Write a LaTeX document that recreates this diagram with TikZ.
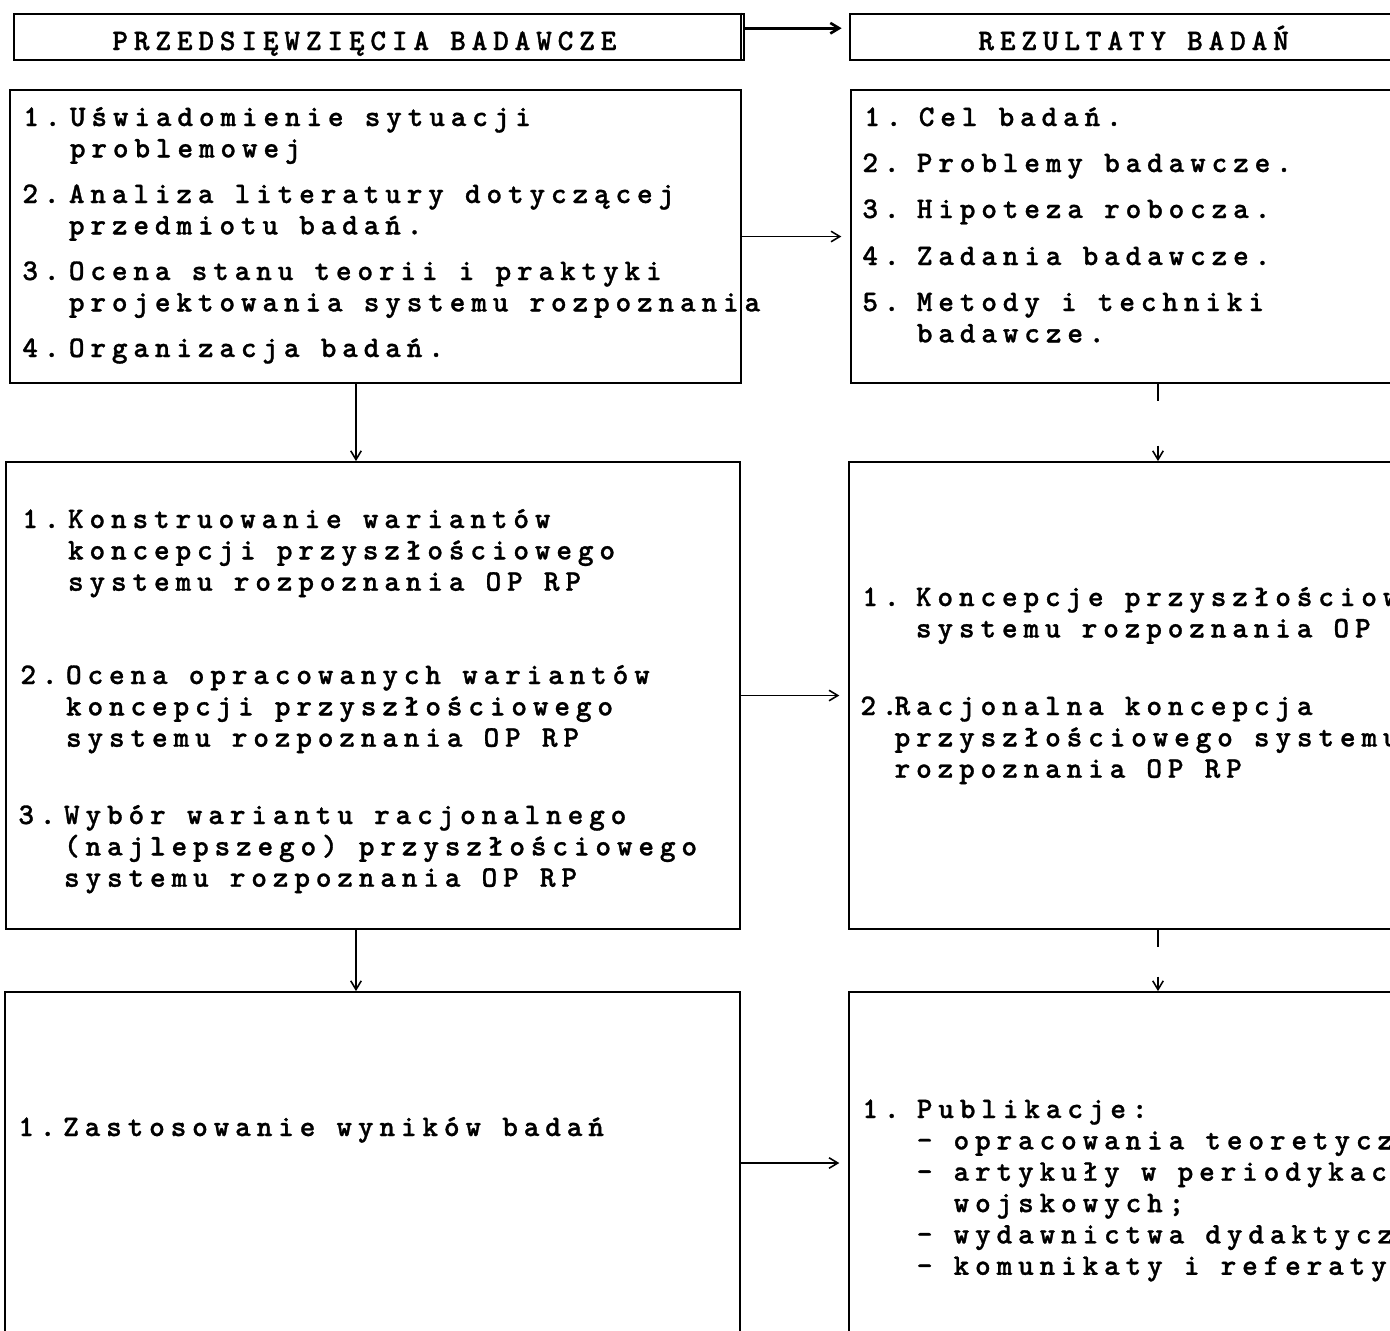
\documentclass[tikz,border=0pt]{standalone}
\usepackage{fontspec}
\newfontfamily\drukarka{lmmonolt10-bold.otf}[LetterSpace=19.5,FakeBold=1]
\usetikzlibrary{arrows.meta,fit}

\newcommand{\drukfont}{\drukarka\fontsize{17}{17.85}\selectfont}
\newcommand{\nr}[2][26.5pt]{\makebox[#1][l]{#2}}
\newcommand{\wc}[1][26.5pt]{\hspace*{#1}}

\tikzset{
  ramka/.style={draw, line width=1pt, inner sep=0pt},
  naglowek/.style={draw, line width=1.5pt, inner sep=0pt},
  tekst/.style={anchor=base west, inner sep=0pt, text width=20cm, align=left,
    font=\drukfont, execute at begin node={\spaceskip=12pt\relax}},
  strz/.style={-{Straight Barb[length=5pt,width=6pt]}, line width=0.9pt},
  przer/.style={strz, dash pattern=on 9.6pt off #1 on 20pt},
  przer/.default=25.5pt
}

\begin{document}
\begin{tikzpicture}[x=0.02cm, y=-0.02cm]
  % helper grid: comment for final drawing
  % \draw[help lines,step=50] (0,0) grid (1390,1330);
  \useasboundingbox (0,0) rectangle (1390,1330);
  \clip (0,0) rectangle (1390,1330);
  % naglowki
  \node[naglowek, fit={(14,14) (744,60)}] (hl) {};
  \node[naglowek, fit={(850,14) (1420,60)}] (hr) {};
  \draw[line width=1pt] ([xshift=-2.5pt]hl.north east) -- ([xshift=-2.5pt]hl.south east);
  \node[tekst] (thl) at (112,50) {PRZEDSIĘWZIĘCIA BADAWCZE};
  \node[tekst] (thr) at (978,50) {REZULTATY BADAŃ};
  % ramki
  \node[ramka, fit={(10,90) (741,383)}] (l1) {};
  \node[ramka, fit={(851,90) (1420,383)}] (r1) {};
  \node[ramka, fit={(6,462) (740,929)}] (l2) {};
  \node[ramka, fit={(849,462) (1420,929)}] (r2) {};
  \node[ramka, fit={(5,992) (740,1334)}] (l3) {};
  \node[ramka, fit={(849,992) (1420,1334)}] (r3) {};
  % przedsiewziecia
  \node[tekst] (p1) at (23,126) {\nr{1.}Uświadomienie sytuacji\\\wc problemowej};
  \node[tekst] (p2) at (22,203) {\nr{2.}Analiza literatury dotyczącej\\\wc przedmiotu badań.};
  \node[tekst] (p3) at (22,280) {\nr{3.}Ocena stanu teorii i praktyki\\\wc projektowania systemu rozpoznania};
  \node[tekst] (p4) at (22,357) {\nr{4.}Organizacja badań.};
  \node[tekst] (k1) at (22,528) {\nr[26pt]{1.}Konstruowanie wariantów\\\wc[26pt]koncepcji przyszłościowego\\\wc[26pt]systemu rozpoznania OP RP};
  \node[tekst] (k2) at (20,684) {\nr[26pt]{2.}Ocena opracowanych wariantów\\\wc[26pt]koncepcji przyszłościowego\\\wc[26pt]systemu rozpoznania OP RP};
  \node[tekst] (k3) at (18,824) {\nr[26pt]{3.}Wybór wariantu racjonalnego\\\wc[26pt](najlepszego) przyszłościowego\\\wc[26pt]systemu rozpoznania OP RP};
  \node[tekst] (z1) at (18,1136) {\nr[25.5pt]{1.}Zastosowanie wyników badań};
  % rezultaty
  \node[tekst] (w1) at (864,126) {\nr[31pt]{1.}Cel badań.};
  \node[tekst] (w2) at (862,172) {\nr[31pt]{2.}Problemy badawcze.};
  \node[tekst] (w3) at (862,218) {\nr[31pt]{3.}Hipoteza robocza.};
  \node[tekst] (w4) at (862,265) {\nr[31pt]{4.}Zadania badawcze.};
  \node[tekst] (w5) at (862,311) {\nr[31pt]{5.}Metody i techniki\\\wc[31pt]badawcze.};
  \node[tekst] (c1) at (862,606) {\nr[30.5pt]{1.}Koncepcje przyszłościowego\\\wc[30.5pt]systemu rozpoznania OP RP};
  \node[tekst] (c2) at (860,715) {\nr[19.5pt]{2.}Racjonalna koncepcja\\\wc[19.5pt]przyszłościowego systemu\\\wc[19.5pt]rozpoznania OP RP};
  \node[tekst] (u1) at (862,1118) {\nr[31pt]{1.}Publikacje:\\
    \wc[31pt]- opracowania teoretyczne\\
    \wc[31pt]- artykuły w periodykach\\
    \wc[31pt]\phantom{- }wojskowych;\\
    \wc[31pt]- wydawnictwa dydaktyczne\\
    \wc[31pt]- komunikaty i referaty};
  % strzalki
  \coordinate (osl) at (356,0);
  \coordinate (osr) at (1158,0);
  \draw[strz, line width=1.5pt, shorten >=4pt] ([yshift=5pt]hl.east) -- ([yshift=5pt]hl.east -| hr.west);
  \draw[strz, shorten >=5pt] (l1) -- (r1);
  \draw[strz, shorten >=5pt] (l2) -- (r2);
  \draw[strz, shorten >=5pt] (l3) -- (r3);
  \draw[strz] (l1.south -| osl) -- (l2.north -| osl);
  \draw[strz] (l2.south -| osl) -- (l3.north -| osl);
  \draw[przer] (r1.south -| osr) -- (r2.north -| osr);
  \draw[przer=17pt] (r2.south -| osr) -- (r3.north -| osr);
\end{tikzpicture}
\end{document}
